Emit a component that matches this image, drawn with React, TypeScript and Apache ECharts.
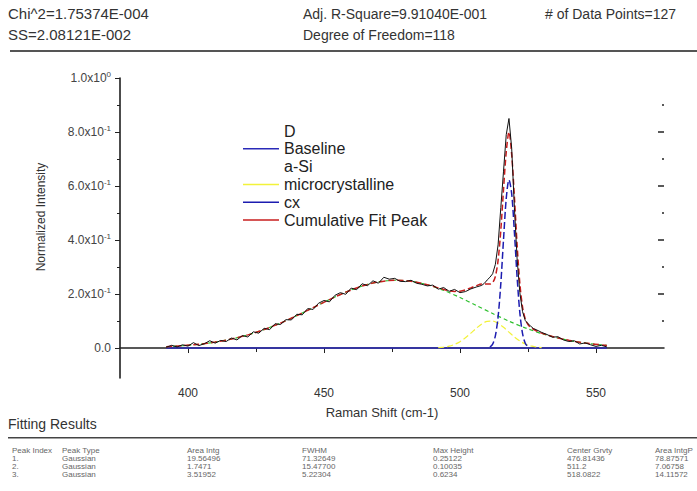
import React, { useEffect, useRef } from 'react';
import * as echarts from 'echarts';

const ramanShift = [
  392, 394, 396, 398, 400, 402, 404, 406, 408, 410, 412, 414, 416, 418, 420, 422, 424, 426, 428, 430,
  432, 434, 436, 438, 440, 442, 444, 446, 448, 450, 452, 454, 456, 458, 460, 462, 464, 466, 468, 470,
  472, 474, 476, 478, 480, 482, 484, 486, 488, 490, 492, 494, 496, 498, 500, 502, 504, 506, 508,
  509, 510, 511, 512, 513, 514, 515, 516, 517, 518, 519, 520, 521, 522, 523, 524, 525, 526, 527, 528,
  530, 532, 534, 536, 538, 540, 542, 544, 546, 548, 550, 552, 554,
];
const intensity = [
  0.003, 0.010, 0.004, 0.012, 0.007, 0.020, 0.009, 0.016, 0.027, 0.018, 0.028, 0.024, 0.037, 0.030, 0.046, 0.041, 0.060, 0.055, 0.073, 0.068,
  0.090, 0.087, 0.105, 0.104, 0.125, 0.123, 0.146, 0.143, 0.166, 0.176, 0.171, 0.195, 0.205, 0.199, 0.222, 0.216, 0.238, 0.231, 0.249, 0.240,
  0.262, 0.255, 0.258, 0.247, 0.246, 0.251, 0.240, 0.236, 0.230, 0.233, 0.218, 0.224, 0.210, 0.217, 0.205, 0.209, 0.219, 0.226, 0.232,
  0.240, 0.252, 0.262, 0.275, 0.310, 0.382, 0.520, 0.655, 0.790, 0.850, 0.740, 0.520, 0.330, 0.205, 0.135, 0.102, 0.090, 0.081, 0.072, 0.068,
  0.058, 0.050, 0.040, 0.042, 0.030, 0.024, 0.027, 0.015, 0.019, 0.012, 0.006, 0.010, 0.004,
];

// ---- baseline ----
const baselineX = [392, 554];
const baselineY = [0, 0];

// ---- a-Si component ----
const aSiX = [392, 398, 404, 410, 416, 422, 428, 434, 440, 446, 452, 458, 464, 470, 476, 482, 488, 494, 500, 506, 512, 518, 524, 530, 536, 542, 548, 554];
const aSiY = [0.0050, 0.0085, 0.0139, 0.0220, 0.0334, 0.0488, 0.0685, 0.0924, 0.1199, 0.1496, 0.1795, 0.2070, 0.2295, 0.2448, 0.2510, 0.2473, 0.2344, 0.2136, 0.1871, 0.1577, 0.1277, 0.0995, 0.0745, 0.0536, 0.0371, 0.0247, 0.0158, 0.0097];

// ---- microcrystalline component ----
const microX = [492, 494, 496, 498, 500, 502, 504, 506, 508, 510, 512, 514, 516, 518, 520, 522, 524, 526, 528, 530];
const microY = [0.0014, 0.0033, 0.0069, 0.0134, 0.0235, 0.0377, 0.0551, 0.0734, 0.0891, 0.0986, 0.0996, 0.0916, 0.0768, 0.0587, 0.0409, 0.0260, 0.0151, 0.0080, 0.0038, 0.0017];

// ---- crystalline (cx) component ----
const cxX = [511, 512, 513, 514, 515, 516, 517, 518, 519, 520, 521, 522, 523, 524, 525];
const cxY = [0.0038, 0.0146, 0.0453, 0.1148, 0.2377, 0.4017, 0.5537, 0.6230, 0.5720, 0.4286, 0.2621, 0.1307, 0.0532, 0.0177, 0.0048];

// ---- cumulative fit ----
const cumX = [392, 398, 404, 410, 416, 422, 428, 434, 440, 446, 452, 458, 464, 470, 476, 482, 488,
  490, 492, 494, 496, 498, 500, 502, 504, 506, 508, 510,
  511, 512, 513, 514, 515, 516, 517, 518, 519, 520, 521, 522, 523, 524, 525, 526,
  528, 530, 534, 540, 546, 554];
const cumY = [0.0050, 0.0085, 0.0139, 0.0220, 0.0334, 0.0488, 0.0685, 0.0924, 0.1199, 0.1496, 0.1795, 0.2070, 0.2295, 0.2448, 0.2510, 0.2473, 0.2344,
  0.2289, 0.2227, 0.2169, 0.2122, 0.2098, 0.2106, 0.2152, 0.2228, 0.2311, 0.2367, 0.2370,
  0.2367, 0.2419, 0.2647, 0.3244, 0.4359, 0.5871, 0.7257, 0.8000, 0.7166, 0.5602, 0.3816, 0.2391, 0.1516, 0.1073, 0.0866, 0.0760,
  0.0639, 0.0553, 0.0424, 0.0284, 0.0184, 0.0097];

// ---- ticks ----
const xMajorTicks = [400, 450, 500, 550];
const xMinorTicks = [425, 475, 525];
const xTopTicks = [400, 425, 450, 475, 500, 525, 550];
const yMajorTicks = [0, 0.2, 0.4, 0.6, 0.8, 1.0];
const yMinorTicks = [0.1, 0.3, 0.5, 0.7, 0.9];
const yRightMajor = [0.2, 0.4, 0.6, 0.8];
const yMantissa = ['0.0', '2.0x10', '4.0x10', '6.0x10', '8.0x10', '1.0x10'];
const yExponent = ['', '-1', '-1', '-1', '-1', '0'];

// ---- fit statistics ----
const statsLeft = ['Chi^2=1.75374E-004', 'SS=2.08121E-002'];
const statsMid = ['Adj. R-Square=9.91040E-001', 'Degree of Freedom=118'];
const statsRight = ['# of Data Points=127'];

// ---- fitting results table ----
const tableHeaders = ['Peak Index', 'Peak Type', 'Area Intg', 'FWHM', 'Max Height', 'Center Grvty', 'Area IntgP'];
const peakIndex = ['1.', '2.', '3.'];
const peakType = ['Gaussian', 'Gaussian', 'Gaussian'];
const areaIntg = ['19.56496', '1.7471', '3.51952'];
const fwhm = ['71.32649', '15.47700', '5.22304'];
const maxHeight = ['0.25122', '0.10035', '0.6234'];
const centerGrvty = ['476.81436', '511.2', '518.0822'];
const areaIntgP = ['78.87571', '7.06758', '14.11572'];

const FONT = '"Liberation Sans", Arial, sans-serif';
const zip = (xs: number[], ys: number[]) => xs.map((x, i) => [x, ys[i]]);

export default function App() {
  const ref = useRef<HTMLDivElement>(null);
  useEffect(() => {
    if (!ref.current) return;
    const chart = echarts.init(ref.current, undefined, { renderer: 'svg' });

    const tableCols = [peakIndex, peakType, areaIntg, fwhm, maxHeight, centerGrvty, areaIntgP];
    const colX = [12, 62, 187, 302, 433, 567, 655];
    const tableTexts: any[] = [];
    tableHeaders.forEach((h, c) => {
      tableTexts.push({ type: 'text', x: colX[c], y: 446, style: { text: h, font: `8px ${FONT}`, fill: '#666' } });
      tableCols[c].forEach((v, r) => {
        tableTexts.push({ type: 'text', x: colX[c], y: 454 + r * 8, style: { text: v, font: `8px ${FONT}`, fill: '#666' } });
      });
    });

    const statTexts: any[] = [];
    statsLeft.forEach((t, i) => statTexts.push({ type: 'text', x: 8, y: 6 + i * 21, style: { text: t, font: `15px ${FONT}`, fill: '#333' } }));
    statsMid.forEach((t, i) => statTexts.push({ type: 'text', x: 303, y: 7 + i * 21, style: { text: t, font: `14px ${FONT}`, fill: '#333' } }));
    statsRight.forEach((t, i) => statTexts.push({ type: 'text', x: 545, y: 7 + i * 21, style: { text: t, font: `14px ${FONT}`, fill: '#333' } }));

    const tickColor = '#222';
    const yLabelFmt = (v: number) => {
      const i = yMajorTicks.findIndex((t) => Math.abs(t - v) < 1e-6);
      if (i < 0) return '';
      return yExponent[i] ? `{m|${yMantissa[i]}}{s|${yExponent[i]}}` : `{m|${yMantissa[i]}}`;
    };

    const baseX = {
      type: 'value', min: 375, max: 575, gridIndex: 0,
      splitLine: { show: false }, axisLabel: { show: false }, axisLine: { show: false },
    };
    const baseY = {
      type: 'value', min: -0.111, max: 1.0, gridIndex: 0,
      splitLine: { show: false }, axisLabel: { show: false }, axisLine: { show: false },
    };

    chart.setOption({
      animation: false,
      backgroundColor: '#fff',
      grid: { left: 120, right: 33, top: 78, bottom: 113 },
      xAxis: [
        {
          ...baseX, position: 'bottom',
          axisTick: { show: true, inside: false, length: 5, customValues: xMajorTicks, lineStyle: { color: tickColor } },
          axisLabel: { show: true, customValues: xMajorTicks, margin: 9, color: '#333', fontSize: 12, fontFamily: FONT },
          name: 'Raman Shift (cm-1)', nameLocation: 'middle', nameGap: 28,
          nameTextStyle: { color: '#333', fontSize: 13, fontFamily: FONT, padding: [0, 20, 0, 0] },
        },
        {
          ...baseX, position: 'bottom',
          axisTick: { show: true, inside: false, length: 3, customValues: xMinorTicks, lineStyle: { color: tickColor } },
        },
        {
          ...baseX, position: 'top',
          axisLine: { show: true, lineStyle: { color: '#222', width: 1.5 } },
          axisTick: { show: true, inside: true, length: 4, customValues: xTopTicks, lineStyle: { color: tickColor } },
        },
      ],
      yAxis: [
        {
          ...baseY, position: 'left',
          axisLine: { show: true, lineStyle: { color: '#111', width: 1.5 } },
          axisTick: { show: true, inside: false, length: 5, customValues: yMajorTicks, lineStyle: { color: tickColor } },
          axisLabel: {
            show: true, customValues: yMajorTicks, margin: 9, formatter: yLabelFmt,
            rich: {
              m: { fontSize: 12, color: '#444', fontFamily: FONT, lineHeight: 15 },
              s: { fontSize: 8, color: '#444', fontFamily: FONT, lineHeight: 8, verticalAlign: 'top' },
            },
          },
          name: 'Normalized Intensity', nameLocation: 'middle', nameGap: 73,
          nameTextStyle: { color: '#333', fontSize: 12, fontFamily: FONT, padding: [0, 0, 0, 22] },
        },
        {
          ...baseY, position: 'left',
          axisTick: { show: true, inside: false, length: 3, customValues: yMinorTicks, lineStyle: { color: tickColor } },
        },
        {
          ...baseY, position: 'right',
          axisTick: { show: true, inside: true, length: 6, customValues: yRightMajor, lineStyle: { color: tickColor, width: 1.5 } },
        },
        {
          ...baseY, position: 'right',
          axisTick: { show: true, inside: true, length: 2, customValues: yMinorTicks, lineStyle: { color: tickColor, width: 1.5 } },
        },
      ],
      legend: {
        show: true, orient: 'vertical', left: 237, top: 118, itemWidth: 36, itemHeight: 14, itemGap: 1.8,
        selectedMode: false,
        textStyle: { fontSize: 16, color: '#222', fontFamily: FONT, lineHeight: 15.8 },
        data: [
          { name: 'D', lineStyle: { opacity: 0 }, itemStyle: { opacity: 0 } },
          { name: 'Baseline', lineStyle: { type: 'solid', width: 1.5 }, itemStyle: { opacity: 0 } },
          { name: 'a-Si', lineStyle: { opacity: 0 }, itemStyle: { opacity: 0 } },
          { name: 'microcrystalline', lineStyle: { type: 'solid', width: 1.5 }, itemStyle: { opacity: 0 } },
          { name: 'cx', lineStyle: { type: 'solid', width: 1.5 }, itemStyle: { opacity: 0 } },
          { name: 'Cumulative Fit Peak', lineStyle: { type: 'solid', width: 1.5 }, itemStyle: { opacity: 0 } },
        ],
      },
      series: [
        {
          name: 'Baseline', type: 'line', data: zip(baselineX, baselineY), symbol: 'none',
          lineStyle: { color: '#2a2ab8', width: 1.5 }, itemStyle: { color: '#2a2ab8' },
        },
        {
          name: 'a-Si', type: 'line', data: zip(aSiX, aSiY), symbol: 'none', smooth: 0.3,
          lineStyle: { color: '#2ec02e', width: 1.2, type: [4, 3] }, itemStyle: { color: '#2ec02e' },
        },
        {
          name: 'microcrystalline', type: 'line', data: zip(microX, microY), symbol: 'none', smooth: 0.3,
          lineStyle: { color: '#f2f23a', width: 1.2, type: [6, 3] }, itemStyle: { color: '#f2f23a' },
        },
        {
          name: 'cx', type: 'line', data: zip(cxX, cxY), symbol: 'none', smooth: 0.3,
          lineStyle: { color: '#1c1cb0', width: 1.5, type: [7, 3] }, itemStyle: { color: '#1c1cb0' },
        },
        {
          name: 'Cumulative Fit Peak', type: 'line', data: zip(cumX, cumY), symbol: 'none', smooth: 0.3,
          lineStyle: { color: '#c81e1e', width: 1.5, type: [6, 3] }, itemStyle: { color: '#c81e1e' },
        },
        {
          name: 'D', type: 'line', data: zip(ramanShift, intensity), symbol: 'none',
          lineStyle: { color: '#111', width: 1 }, itemStyle: { color: '#111' },
        },
      ],
      graphic: [
        ...statTexts,
        { type: 'rect', shape: { x: 10, y: 50, width: 687, height: 2 }, style: { fill: '#555' } },
        { type: 'text', x: 8, y: 417, style: { text: 'Fitting Results', font: `14px ${FONT}`, fill: '#333' } },
        { type: 'rect', shape: { x: 8, y: 437, width: 689, height: 1.5 }, style: { fill: '#444' } },
        ...tableTexts,
      ],
    });
    return () => chart.dispose();
  }, []);
  return <div ref={ref} style={{ position: 'fixed', left: 0, top: 0, width: 697, height: 491, background: '#fff' }} />;
}
